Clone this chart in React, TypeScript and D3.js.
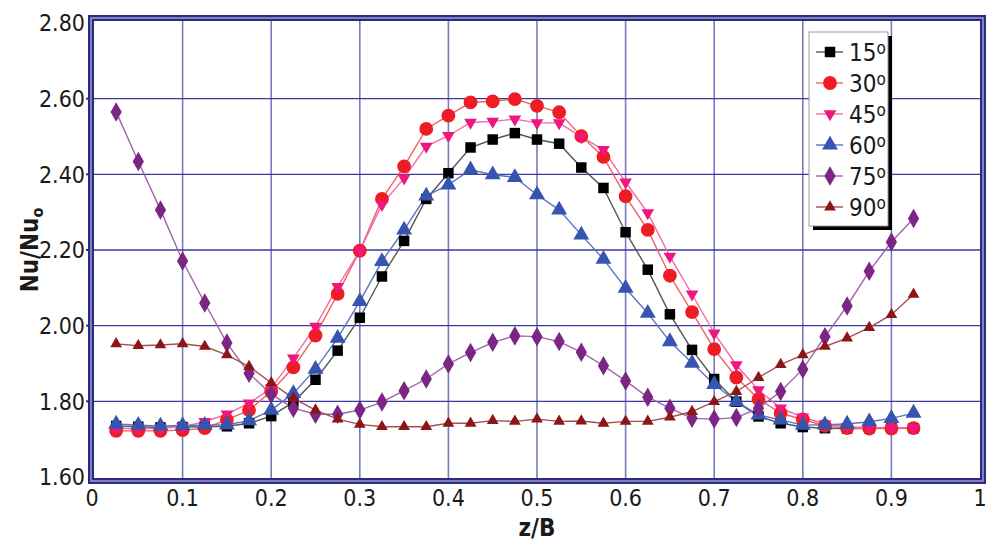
import React from "react";
import * as d3 from "d3";

const xPositions = [
  0.025, 0.05, 0.075, 0.1, 0.125, 0.15, 0.175, 0.2, 0.225, 0.25, 0.275, 0.3,
  0.325, 0.35, 0.375, 0.4, 0.425, 0.45, 0.475, 0.5, 0.525, 0.55, 0.575, 0.6,
  0.625, 0.65, 0.675, 0.7, 0.725, 0.75, 0.775, 0.8, 0.825, 0.85, 0.875, 0.9,
  0.925,
];

const angle15 = [
  1.735, 1.733, 1.731, 1.732, 1.733, 1.734, 1.742, 1.761, 1.798, 1.857, 1.934,
  2.021, 2.13, 2.224, 2.335, 2.403, 2.471, 2.492, 2.509, 2.492, 2.481, 2.418,
  2.364, 2.247, 2.148, 2.03, 1.936, 1.859, 1.799, 1.76, 1.742, 1.732, 1.729,
  1.728, 1.729, 1.729, 1.729,
];
const angle30 = [
  1.722, 1.722, 1.722, 1.724, 1.729, 1.751, 1.777, 1.826, 1.89, 1.974, 2.084,
  2.198, 2.335, 2.421, 2.52, 2.555, 2.59, 2.593, 2.599, 2.581, 2.564, 2.501,
  2.446, 2.342, 2.253, 2.132, 2.036, 1.938, 1.863, 1.806, 1.769, 1.752, 1.735,
  1.729, 1.728, 1.728, 1.729,
];
const angle45 = [
  1.728, 1.728, 1.729, 1.733, 1.746, 1.766, 1.795, 1.835, 1.914, 1.998, 2.103,
  2.198, 2.32, 2.39, 2.474, 2.502, 2.537, 2.54, 2.546, 2.536, 2.536, 2.499,
  2.465, 2.379, 2.298, 2.183, 2.083, 1.98, 1.896, 1.83, 1.782, 1.758, 1.74,
  1.733, 1.731, 1.73, 1.73,
];
const angle60 = [
  1.74, 1.737, 1.735, 1.736, 1.737, 1.738, 1.749, 1.777, 1.821, 1.885, 1.967,
  2.064, 2.17, 2.253, 2.343, 2.372, 2.412, 2.399, 2.392, 2.346, 2.306, 2.24,
  2.176, 2.099, 2.033, 1.958, 1.901, 1.845, 1.799, 1.764, 1.751, 1.737, 1.738,
  1.74, 1.746, 1.755, 1.769,
];
const angle75 = [
  2.565, 2.434, 2.306, 2.171, 2.06, 1.954, 1.874, 1.819, 1.782, 1.766, 1.766,
  1.777, 1.798, 1.828, 1.859, 1.899, 1.929, 1.956, 1.973, 1.971, 1.958, 1.93,
  1.894, 1.854, 1.811, 1.782, 1.755, 1.753, 1.757, 1.782, 1.826, 1.885, 1.971,
  2.052, 2.144, 2.221, 2.283,
];
const angle90 = [
  1.952, 1.947, 1.949, 1.952, 1.945, 1.923, 1.892, 1.849, 1.808, 1.777, 1.753,
  1.739, 1.733, 1.733, 1.733, 1.742, 1.742, 1.749, 1.747, 1.753, 1.747, 1.748,
  1.742, 1.747, 1.747, 1.758, 1.773, 1.799, 1.826, 1.863, 1.897, 1.923, 1.945,
  1.967, 1.995, 2.029, 2.083,
];

const seriesNames = ["15", "30", "45", "60", "75", "90"];
const seriesValues = [angle15, angle30, angle45, angle60, angle75, angle90];

const xTicks = [0, 0.1, 0.2, 0.3, 0.4, 0.5, 0.6, 0.7, 0.8, 0.9, 1];
const xTickLabels = ["0", "0.1", "0.2", "0.3", "0.4", "0.5", "0.6", "0.7", "0.8", "0.9", "1"];
const yTicks = [1.6, 1.8, 2.0, 2.2, 2.4, 2.6, 2.8];
const yTickLabels = ["1.60", "1.80", "2.00", "2.20", "2.40", "2.60", "2.80"];

type Style = {
  marker: string;
  line: string;
  shape: d3.SymbolType;
  size: number;
  rotate?: number;
};

const styles: Style[] = [
  { marker: "#000000", line: "#555555", shape: d3.symbolSquare, size: 110 },
  { marker: "#ee1c24", line: "#f26060", shape: d3.symbolCircle, size: 150 },
  { marker: "#f0167f", line: "#f46aa8", shape: d3.symbolTriangle, size: 70, rotate: 180 },
  { marker: "#3555b0", line: "#5a74c0", shape: d3.symbolTriangle, size: 110 },
  { marker: "#7b2585", line: "#a362ad", shape: d3.symbolDiamond, size: 110 },
  { marker: "#8c1515", line: "#a55050", shape: d3.symbolTriangle, size: 60 },
];

const W = 986;
const H = 544;
// inner edges of the plot frame
const frame = { left: 94, right: 980, top: 21, bottom: 478 };

const x = d3.scaleLinear().domain([0, 1]).range([94, 980]);
const y = d3.scaleLinear().domain([1.6, 2.8]).range([477, 23]);

const tickFont = "'DejaVu Sans Condensed', 'DejaVu Sans', sans-serif";
const navy = "#2b2b80";

export default function App() {
  const line = d3
    .line<number>()
    .x((_, i) => x(xPositions[i]))
    .y((v) => y(v));

  const legendX = 809;
  const legendY = 32;
  const legendW = 79;
  const legendH = 194;
  const rowGap = 31;

  const fx = frame.left - 3;
  const fy = frame.top - 3;
  const fw = frame.right - frame.left + 6;
  const fh = frame.bottom - frame.top + 6;

  return (
    <svg
      width={W}
      height={H}
      style={{ position: "absolute", left: 0, top: 0, background: "#ffffff" }}
    >
      {/* grid */}
      <g>
        {xTicks.slice(1, -1).map((t) => (
          <line
            key={"vx" + t}
            x1={x(t)}
            x2={x(t)}
            y1={frame.top}
            y2={frame.bottom}
            stroke="#7a7ac0"
            strokeWidth={1.6}
          />
        ))}
        {yTicks.slice(1, -1).map((t) => (
          <line
            key={"hy" + t}
            x1={frame.left}
            x2={frame.right}
            y1={y(t)}
            y2={y(t)}
            stroke="#3a3a98"
            strokeWidth={1.4}
          />
        ))}
        {yTicks.slice(1, -1).map((t) => (
          <line
            key={"tk" + t}
            x1={frame.left - 8}
            x2={frame.left}
            y1={y(t)}
            y2={y(t)}
            stroke={navy}
            strokeWidth={2}
          />
        ))}
      </g>

      {/* double-line frame */}
      <rect x={fx} y={fy} width={fw} height={fh} fill="none" stroke={navy} strokeWidth={6} />
      <rect x={fx} y={fy} width={fw} height={fh} fill="none" stroke="#9c9cd6" strokeWidth={1.5} />

      {/* series */}
      {seriesValues.map((vals, si) => (
        <path
          key={"l" + si}
          d={line(vals) || ""}
          fill="none"
          stroke={styles[si].line}
          strokeWidth={1.4}
        />
      ))}
      {seriesValues.map((vals, si) => {
        const st = styles[si];
        const sym = d3.symbol().type(st.shape).size(st.size)() || "";
        return (
          <g key={"m" + si} fill={st.marker}>
            {vals.map((v, i) => (
              <path
                key={i}
                d={sym}
                transform={`translate(${x(xPositions[i])},${y(v)})${st.rotate ? ` rotate(${st.rotate})` : ""}`}
              />
            ))}
          </g>
        );
      })}

      {/* axis labels */}
      {yTicks.map((t, i) => (
        <text
          key={"yl" + t}
          x={85}
          y={y(t)}
          dy="0.36em"
          textAnchor="end"
          fontFamily={tickFont}
          fontSize={23}
          fill="#1a1a1a"
        >
          {yTickLabels[i]}
        </text>
      ))}
      {xTicks.map((t, i) => (
        <text
          key={"xl" + t}
          x={x(t) - (i === 0 ? 2 : 0)}
          y={506}
          textAnchor="middle"
          fontFamily={tickFont}
          fontSize={23}
          fill="#1a1a1a"
        >
          {xTickLabels[i]}
        </text>
      ))}
      <text
        x={537}
        y={536}
        textAnchor="middle"
        fontFamily={tickFont}
        fontSize={24}
        fontWeight="bold"
        fill="#1a1a1a"
      >
        z/B
      </text>
      <text
        transform="translate(38,250) rotate(-90)"
        textAnchor="middle"
        fontFamily={tickFont}
        fontSize={24}
        fontWeight="bold"
        fill="#1a1a1a"
      >
        Nu/Nu
        <tspan fontSize={16} dy={5}>
          o
        </tspan>
      </text>

      {/* legend */}
      <g>
        <rect x={legendX + 4} y={legendY + 4} width={legendW} height={legendH} fill="#000" />
        <rect
          x={legendX}
          y={legendY}
          width={legendW}
          height={legendH}
          fill="#fff"
          stroke="#999"
          strokeWidth={1}
        />
        {seriesNames.map((name, si) => {
          const st = styles[si];
          const cy = legendY + 20 + si * rowGap;
          const sym = d3.symbol().type(st.shape).size(st.size)() || "";
          return (
            <g key={"lg" + si}>
              <line
                x1={legendX + 7}
                x2={legendX + 34}
                y1={cy}
                y2={cy}
                stroke={st.line}
                strokeWidth={1.4}
              />
              <path
                d={sym}
                fill={st.marker}
                transform={`translate(${legendX + 21},${cy})${st.rotate ? ` rotate(${st.rotate})` : ""}`}
              />
              <text
                x={legendX + 40}
                y={cy}
                dy="0.36em"
                fontFamily={tickFont}
                fontSize={24}
                fill="#1a1a1a"
              >
                {name}
                <tspan fontSize={17} dy={-7}>
                  o
                </tspan>
              </text>
            </g>
          );
        })}
      </g>
    </svg>
  );
}
